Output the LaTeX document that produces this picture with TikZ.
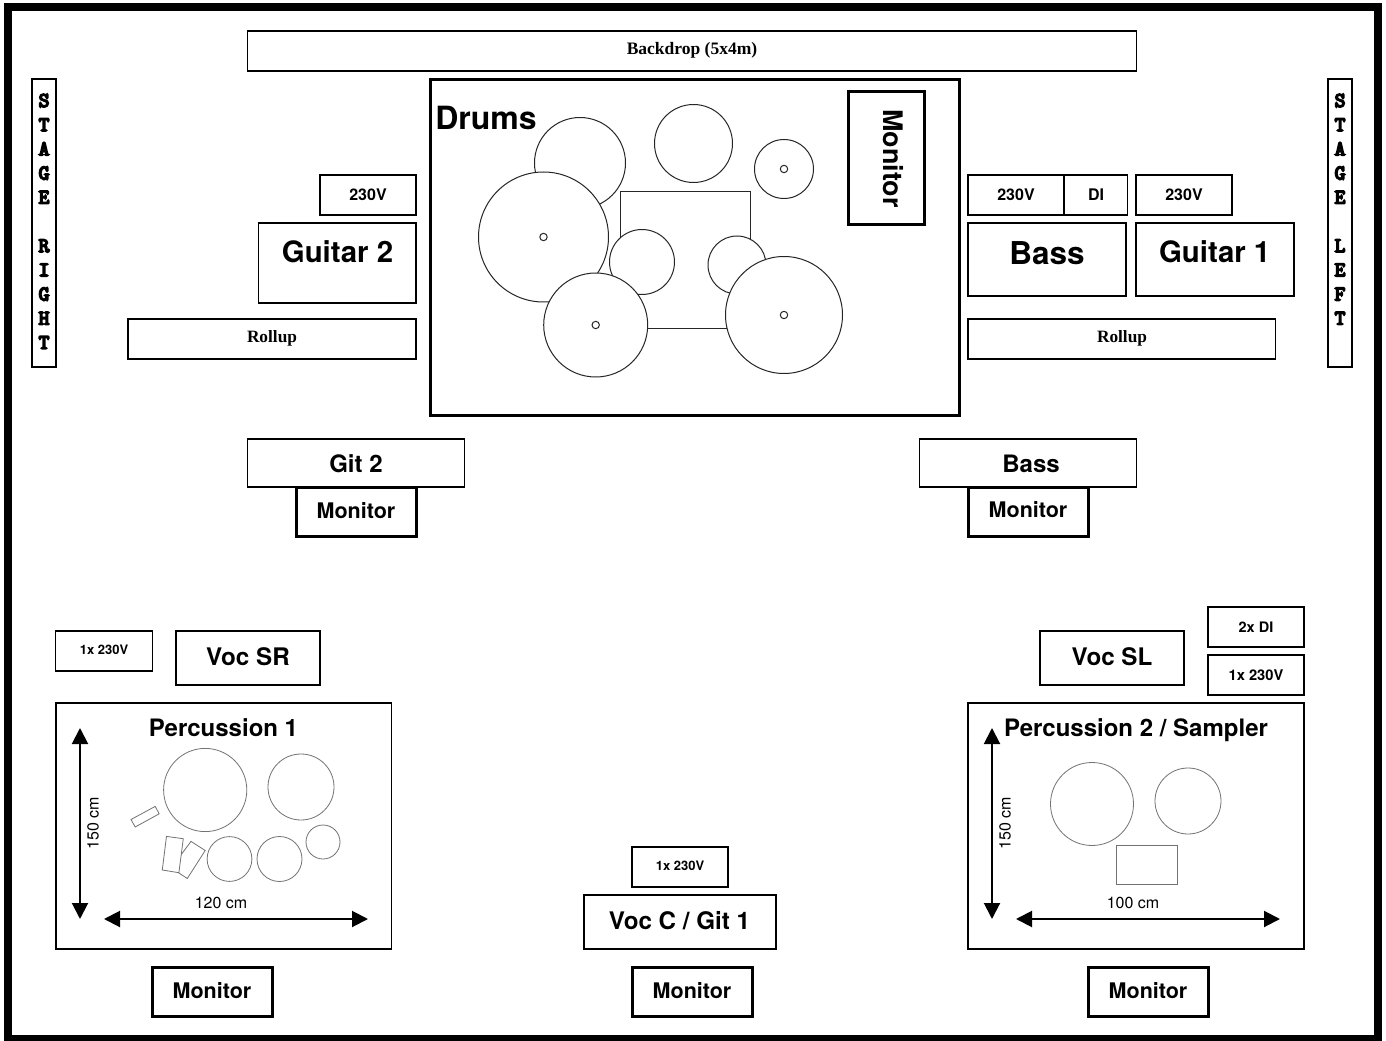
\documentclass[tikz,border=0pt]{standalone}
\usepackage{fontspec}
\setmainfont{TeX Gyre Heros}
\newfontfamily\serifb{Liberation Serif}
\newfontfamily\stagefont{Latin Modern Mono}[FakeBold=8]
\usetikzlibrary{arrows.meta}
\tikzset{
  x=0.75pt,y=-0.75pt,
  box/.style={draw=black,fill=white,line width=1.3pt,inner sep=0pt,outer sep=0pt},
  thickbox/.style={box,line width=2.25pt},
  stagebox/.style={box,minimum width=18pt,minimum height=216pt,font=\stagefont\fontsize{15.5}{18.15}\selectfont},
  drum/.style={draw=black!85,fill=white,line width=0.75pt},
  perc/.style={draw=black!55,fill=white,line width=0.6pt},
  dim/.style={line width=1.5pt,{Triangle[length=12pt,width=12pt]}-{Triangle[length=12pt,width=12pt]}},
  lbl/.style={inner sep=0pt,outer sep=0pt},
}
\newcommand\stagetext[1]{\raisebox{0.75pt}{\begin{tabular}{@{}c@{}}#1\end{tabular}}}
% \pbox{name}{style}{x0}{y0}{x1}{y1}{text x}{text y}{size px}{text}
\newcommand\pbox[6]{%
  \pgfmathsetmacro\pcx{(#3+#5)/2}\pgfmathsetmacro\pcy{(#4+#6)/2}%
  \pgfmathsetmacro\pw{(#5-#3)*0.75}\pgfmathsetmacro\ph{(#6-#4)*0.75}%
  \def\pname{#1}\def\pstyle{#2}\pboxb}
\newcommand\pboxb[4]{%
  \pgfmathsetmacro\pdx{(#1-\pcx)*1.5}%
  \pgfmathsetmacro\pdy{(\pcy-#2-0.36*#3)*0.75}%
  \pgfmathsetmacro\pfs{#3*0.75}%
  \node[\pstyle,minimum width=\pw pt,minimum height=\ph pt] (\pname) at (\pcx,\pcy)
    {\raisebox{\pdy pt}[0pt][0pt]{\makebox[0pt][c]{\hspace*{\pdx pt}\fontsize{\pfs}{\pfs}\selectfont\bfseries #4}}};}
\begin{document}
\begin{tikzpicture}
\useasboundingbox (0,0) rectangle (1386,1041);
\fill[white] (0,0) rectangle (1386,1041);
\draw[line width=6pt,draw=black] (8,7.5) rectangle (1378,1039);

\pbox{backdrop}{box}{247.5}{31}{1136.5}{71}{692}{48}{17.5}{\serifb Backdrop (5x4m)}
\node[stagebox] (stageright) at (44,223) {\stagetext{S\\T\\A\\G\\E\\ \\R\\I\\G\\H\\T}};
\node[stagebox] (stageleft) at (1340,223) {\stagetext{S\\T\\A\\G\\E\\ \\L\\E\\F\\T\\\rule{0pt}{1pt}}};

\pbox{drums}{thickbox}{430.5}{79.5}{959.5}{415.5}{486}{118}{32}{Drums}
\draw[drum] (580,163) circle (45.5);
\draw[drum] (693.5,143.5) circle (39);
\draw[drum] (784,169) circle (29.5);
\draw[drum] (784,169) circle (3.7);
\draw[drum] (543.5,237) circle (65);
\draw[drum] (543.5,237) circle (3.7);
\draw[drum] (620,192) rectangle (750,329);
\draw[drum] (642,262) circle (32.5);
\draw[drum] (737,265) circle (29);
\draw[drum] (595.7,325) circle (52);
\draw[drum] (595.7,325) circle (3.7);
\draw[drum] (784,315) circle (58.5);
\draw[drum] (784,315) circle (3.7);
\node[thickbox,rotate=-90,minimum width=99.75pt,minimum height=57pt,font=\bfseries\fontsize{20.2}{20.2}\selectfont] (drummon) at (886.5,158) {\raisebox{-2pt}[0pt][0pt]{\hspace*{0.8pt}Monitor}};

\pbox{pg2}{box}{320}{175}{416}{215}{368}{195}{16}{230V}
\pbox{guitar2}{box}{258.5}{223}{416}{303}{337.5}{252}{29.4}{Guitar 2}
\pbox{rollupl}{box}{128}{319}{416}{359}{272}{336}{17.3}{\serifb Rollup}
\pbox{pbass}{box}{968}{175}{1064}{215}{1016}{195}{16}{230V}
\pbox{di}{box}{1064}{175}{1127.5}{215}{1096}{195}{16}{DI}
\pbox{pg1}{box}{1136}{175}{1232}{215}{1184}{195}{16}{230V}
\pbox{bass}{box}{968}{223}{1126}{296}{1047}{253.5}{31.5}{Bass}
\pbox{guitar1}{box}{1136}{223}{1294}{296}{1214.7}{252}{29.4}{Guitar 1}
\pbox{rollupr}{box}{968}{319}{1275.5}{359}{1122}{336}{17.3}{\serifb Rollup}

\pbox{git2}{box}{247.5}{439}{464.5}{487}{356}{464}{24}{Git 2}
\pbox{mongit2}{thickbox}{296.5}{487.5}{416.5}{536.5}{356}{511}{21.5}{Monitor}
\pbox{bassv}{box}{919.5}{439}{1136.5}{487}{1031}{464}{24}{Bass}
\pbox{monbass}{thickbox}{968.5}{487.5}{1088.5}{536.5}{1028}{510}{21.5}{Monitor}

\pbox{powsr}{box}{55.5}{631}{152.5}{671}{104}{650}{13}{1x 230V}
\pbox{vocsr}{box}{176}{631}{320}{685}{248}{657}{24.2}{Voc SR}
\pbox{perc1}{box}{56}{703}{391.5}{949}{223.5}{728}{24}{Percussion 1}
\pbox{mon1}{thickbox}{152.5}{967.5}{272.5}{1016.5}{212}{991}{21.5}{Monitor}

\draw[perc] (205.2,790) circle (41.6);
\draw[perc] (301,787) circle (33);
\draw[perc] (229.5,859) circle (22.4);
\draw[perc] (279.5,859) circle (22.5);
\draw[perc] (323,842) circle (17);
\draw[perc] (131,819.5) -- (155.2,806.4) -- (159.2,813.8) -- (135.2,827) -- cycle;
\draw[perc] (191,841.4) -- (205.2,850.5) -- (187.3,878.5) -- (171.3,868) -- cycle;
\draw[perc] (166.5,836.4) -- (183.3,838.7) -- (178.9,872.7) -- (162.3,870) -- cycle;

\coordinate (p1t) at (80,728); \coordinate (p1b) at (80,919);
\coordinate (p1l) at (104,919); \coordinate (p1r) at (368,919);
\draw[dim] (p1t) -- (p1b);
\draw[dim] (p1l) -- (p1r);
\node[lbl,rotate=90,font=\fontsize{12}{12}\selectfont] (p1h) at (93,823) {150 cm};
\node[lbl,font=\fontsize{12}{12}\selectfont] (p1w) at (221,903) {120 cm};

\pbox{powc}{box}{632}{847}{728}{887}{680}{865.5}{13}{1x 230V}
\pbox{vocc}{box}{584}{895}{776}{949}{679.5}{921}{24.2}{Voc C / Git 1}
\pbox{monc}{thickbox}{632.5}{967.5}{752.5}{1016.5}{692}{991}{21.5}{Monitor}

\pbox{vocsl}{box}{1040}{631}{1184}{685}{1112}{657}{24.2}{Voc SL}
\pbox{disl}{box}{1208}{607}{1304}{647}{1256}{627}{14.5}{2x DI}
\pbox{powsl}{box}{1208}{655}{1304}{695}{1256}{675}{14.7}{1x 230V}
\pbox{perc2}{box}{968}{703}{1304}{949}{1136}{728}{24}{Percussion 2 / Sampler}
\pbox{mon2}{thickbox}{1088.5}{967.5}{1208.5}{1016.5}{1148}{991}{21.5}{Monitor}

\draw[perc] (1092,804) circle (41.5);
\draw[perc] (1188,801) circle (33);
\draw[perc] (1116,845) rectangle (1177.5,884);

\coordinate (p2t) at (992,728); \coordinate (p2b) at (992,919);
\coordinate (p2l) at (1016,919); \coordinate (p2r) at (1280,919);
\draw[dim] (p2t) -- (p2b);
\draw[dim] (p2l) -- (p2r);
\node[lbl,rotate=90,font=\fontsize{12}{12}\selectfont] (p2h) at (1005,823) {150 cm};
\node[lbl,font=\fontsize{12}{12}\selectfont] (p2w) at (1133,903) {100 cm};
\end{tikzpicture}
\end{document}
